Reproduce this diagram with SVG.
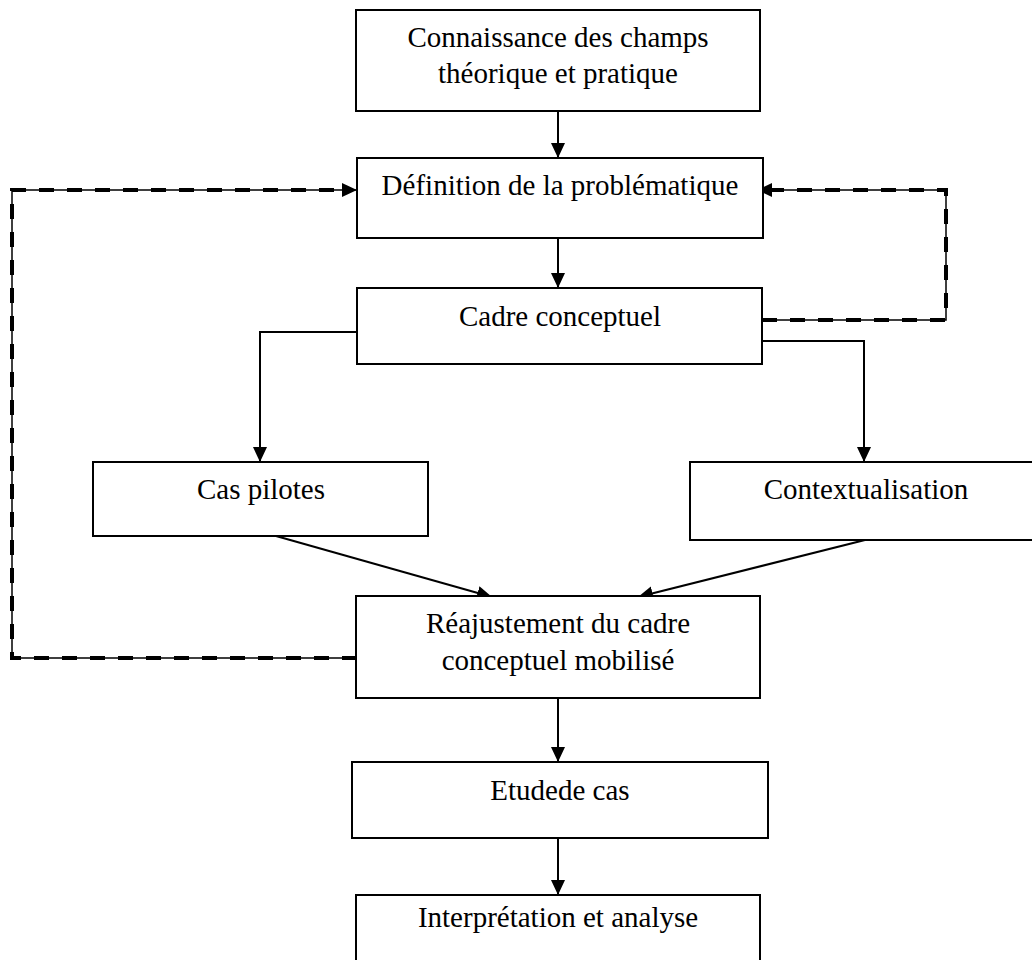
<svg xmlns="http://www.w3.org/2000/svg" width="1032" height="960" viewBox="0 0 1032 960">
<style>
.box{fill:#fff;stroke:#000;stroke-width:2}
.t{font-family:"Liberation Serif","Times New Roman",serif;font-size:29px;fill:#000;text-anchor:middle}
.c{fill:none;stroke:#000;stroke-width:2}
.thin{fill:none;stroke:#000;stroke-width:1.5}
.dash{fill:none;stroke:#000;stroke-width:4;stroke-dasharray:15 13}
</style>
<defs>
<marker id="ah" markerUnits="userSpaceOnUse" markerWidth="16" markerHeight="16" refX="15" refY="7" orient="auto">
<path d="M0,0 L15,7 L0,14 Z" fill="#000"/>
</marker>
</defs>
<rect width="1032" height="960" fill="#fff"/>
<g id="connectors">
<path class="c" d="M558,111 V158" marker-end="url(#ah)"/>
<path class="c" d="M558,238 V288" marker-end="url(#ah)"/>
<path class="c" d="M357,332 H260 V462" marker-end="url(#ah)"/>
<path class="c" d="M762,341 H864 V462" marker-end="url(#ah)"/>
<path class="c" d="M276,536 L492,597" marker-end="url(#ah)"/>
<path class="c" d="M865,540 L638,597" marker-end="url(#ah)"/>
<path class="c" d="M558,698 V762" marker-end="url(#ah)"/>
<path class="c" d="M558,838 V895" marker-end="url(#ah)"/>
<path class="thin" d="M357,658 H12 V190 H357" marker-end="url(#ah)"/>
<path class="dash" d="M357,658 H12 V190 H342"/>
<path class="thin" d="M762,320 H946 V190 H757" marker-end="url(#ah)"/>
<path class="dash" d="M762,320 H946 V190 H772"/>
</g>
<g id="n1"><rect class="box" x="356" y="10" width="404" height="101"/><text class="t" x="558" y="47">Connaissance des champs</text><text class="t" x="558" y="83">théorique et pratique</text></g>
<g id="n2"><rect class="box" x="357" y="158" width="406" height="80"/><text class="t" x="560" y="195">Définition de la problématique</text></g>
<g id="n3"><rect class="box" x="357" y="288" width="405" height="76"/><text class="t" x="560" y="326">Cadre conceptuel</text></g>
<g id="n4"><rect class="box" x="93" y="462" width="335" height="74"/><text class="t" x="261" y="499">Cas pilotes</text></g>
<g id="n5"><rect class="box" x="690" y="462" width="360" height="78"/><text class="t" x="866" y="499">Contextualisation</text></g>
<g id="n6"><rect class="box" x="356" y="596" width="404" height="102"/><text class="t" x="558" y="633">Réajustement du cadre</text><text class="t" x="558" y="670">conceptuel mobilisé</text></g>
<g id="n7"><rect class="box" x="352" y="762" width="416" height="76"/><text class="t" x="560" y="800">Etudede cas</text></g>
<g id="n8"><rect class="box" x="356" y="895" width="404" height="80"/><text class="t" x="558" y="927">Interprétation et analyse</text></g>
</svg>
